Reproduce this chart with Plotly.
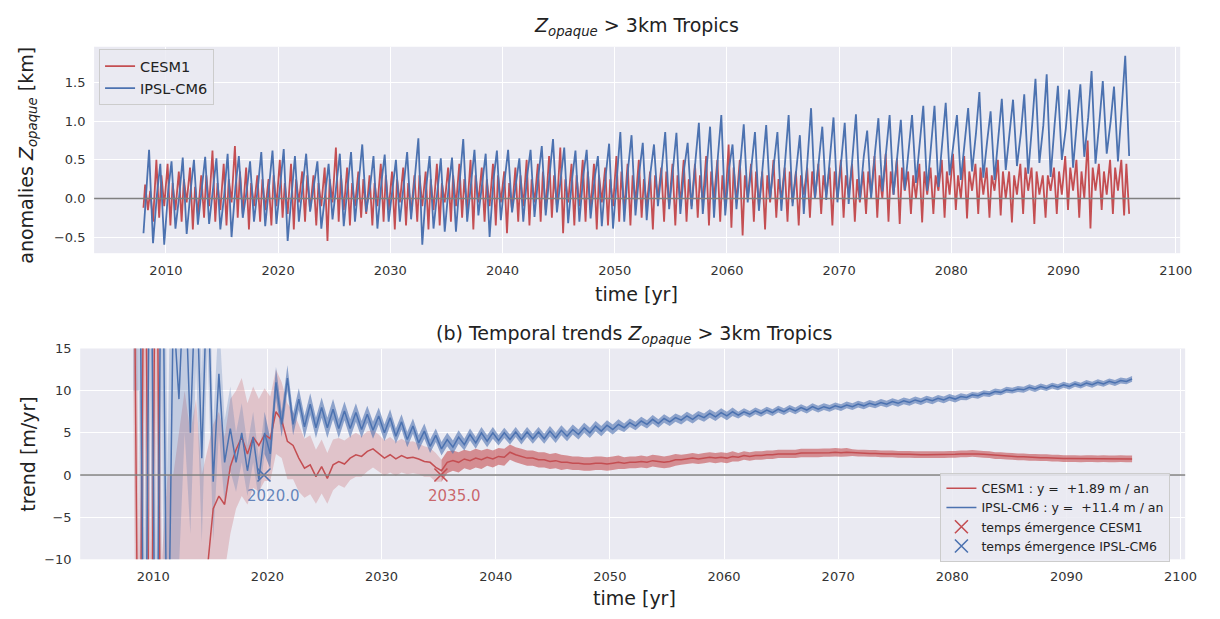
import numpy as np
import plotly.graph_objects as go

RED = "#C44E52"
BLUE = "#4C72B0"

YEARS = list(range(2008, 2096))

# ---- top panel: monthly anomalies, read as yearly shoulder / peak / trough (km) ----
IPSL_START = -0.45
IPSL_SHOULDER = [
    0.00, 0.05, 0.10, 0.05, 0.10, 0.15, 0.10, 0.05, 0.15, 0.10,
    0.15, 0.20, 0.15, 0.10, 0.20, 0.15, 0.10, 0.15, 0.20, 0.25,
    0.15, 0.20, 0.15, 0.20, 0.25, 0.15, 0.10, 0.15, 0.25, 0.20,
    0.20, 0.25, 0.25, 0.20, 0.30, 0.30, 0.35, 0.30, 0.25, 0.30,
    0.25, 0.30, 0.35, 0.40, 0.35, 0.35, 0.40, 0.45, 0.40, 0.50,
    0.45, 0.55, 0.40, 0.50, 0.45, 0.50, 0.50, 0.55, 0.45, 0.60,
    0.55, 0.55, 0.55, 0.60, 0.55, 0.60, 0.60, 0.60, 0.65, 0.70,
    0.70, 0.75, 0.70, 0.75, 0.85, 0.75, 0.80, 0.85, 0.85, 0.95,
    0.95, 0.95, 0.90, 1.00, 1.05, 1.00, 1.00, 1.20,
]
IPSL_PEAK = [
    0.63, 0.45, 0.48, 0.53, 0.50, 0.54, 0.52, 0.58, 0.55, 0.48,
    0.60, 0.62, 0.64, 0.55, 0.58, 0.48, 0.45, 0.58, 0.60, 0.70,
    0.55, 0.57, 0.50, 0.60, 0.78, 0.55, 0.52, 0.53, 0.77, 0.63,
    0.58, 0.62, 0.63, 0.52, 0.63, 0.68, 0.77, 0.66, 0.62, 0.63,
    0.55, 0.71, 0.86, 0.82, 0.72, 0.70, 0.86, 0.85, 0.72, 0.98,
    0.93, 1.08, 0.70, 0.96, 0.86, 0.95, 0.86, 1.08, 0.82, 1.17,
    0.93, 1.05, 0.98, 1.09, 0.88, 1.04, 1.08, 1.02, 1.08, 1.20,
    1.20, 1.24, 1.08, 1.17, 1.38, 1.13, 1.29, 1.28, 1.35, 1.55,
    1.61, 1.46, 1.41, 1.48, 1.65, 1.52, 1.45, 1.85,
]
IPSL_TROUGH = [
    -0.58, -0.60, -0.39, -0.46, -0.34, -0.33, -0.40, -0.50, -0.25, -0.30,
    -0.36, -0.33, -0.55, -0.30, -0.17, -0.39, -0.27, -0.36, -0.30, -0.17,
    -0.39, -0.30, -0.30, -0.27, -0.60, -0.39, -0.43, -0.43, -0.30, -0.22,
    -0.50, -0.28, -0.18, -0.30, -0.24, -0.22, -0.18, -0.32, -0.30, -0.26,
    -0.36, -0.39, -0.30, -0.22, -0.28, -0.10, -0.14, -0.20, -0.14, -0.20,
    -0.25, -0.22, -0.14, -0.05, -0.16, 0.00, -0.16, -0.10, -0.20, 0.00,
    -0.02, -0.05, -0.07, -0.02, 0.00, 0.09, 0.05, 0.11, 0.20, 0.10,
    0.15, 0.30, 0.24, 0.35, 0.27, 0.24, 0.37, 0.42, 0.32, 0.46,
    0.28, 0.50, 0.40, 0.54, 0.45, 0.58, 0.48, 0.55,
]

CESM_START = -0.12
CESM_HI_A = [
    0.18, 0.50, 0.45, 0.35, 0.40, 0.30, 0.62, 0.45, 0.68, 0.40,
    0.30, 0.25, 0.50, 0.45, 0.35, 0.30, 0.40, 0.66, 0.40, 0.35,
    0.30, 0.45, 0.35, 0.40, 0.30, 0.35, 0.45, 0.40, 0.45, 0.50,
    0.40, 0.45, 0.35, 0.40, 0.50, 0.45, 0.55, 0.66, 0.45, 0.50,
    0.45, 0.40, 0.55, 0.45, 0.50, 0.35, 0.40, 0.45, 0.50, 0.45,
    0.55, 0.50, 0.70, 0.50, 0.45, 0.35, 0.50, 0.40, 0.35, 0.40,
    0.45, 0.40, 0.50, 0.45, 0.35, 0.55, 0.58, 0.52, 0.35, 0.45,
    0.40, 0.50, 0.58, 0.55, 0.45, 0.40, 0.50, 0.35, 0.45, 0.40,
    0.30, 0.40, 0.55, 0.50, 0.75, 0.45, 0.50, 0.50,
]
CESM_LO_A = [
    -0.15, -0.25, -0.35, -0.30, -0.40, -0.25, -0.30, -0.35, -0.25, -0.40,
    -0.30, -0.35, -0.25, -0.40, -0.30, -0.35, -0.55, -0.30, -0.35, -0.25,
    -0.35, -0.30, -0.40, -0.35, -0.30, -0.40, -0.35, -0.30, -0.25, -0.40,
    -0.30, -0.35, -0.45, -0.30, -0.35, -0.30, -0.25, -0.45, -0.35, -0.30,
    -0.40, -0.35, -0.30, -0.35, -0.25, -0.40, -0.30, -0.35, -0.30, -0.25,
    -0.35, -0.30, -0.38, -0.48, -0.30, -0.40, -0.25, -0.30, -0.35, -0.25,
    -0.20, -0.35, -0.25, -0.30, -0.20, -0.25, -0.30, -0.33, -0.20, -0.31,
    -0.20, -0.25, -0.15, -0.26, -0.20, -0.25, -0.22, -0.31, -0.20, -0.33,
    -0.25, -0.20, -0.15, -0.25, -0.39, -0.15, -0.20, -0.22,
]
CESM_HI_B = [
    0.10, 0.30, 0.20, 0.25, 0.15, 0.30, 0.20, 0.25, 0.35, 0.20,
    0.25, 0.30, 0.20, 0.25, 0.30, 0.20, 0.25, 0.30, 0.20, 0.25,
    0.20, 0.30, 0.25, 0.20, 0.30, 0.25, 0.20, 0.30, 0.25, 0.30,
    0.25, 0.30, 0.20, 0.30, 0.25, 0.35, 0.30, 0.25, 0.30, 0.35,
    0.30, 0.25, 0.35, 0.30, 0.25, 0.30, 0.35, 0.30, 0.25, 0.30,
    0.35, 0.30, 0.40, 0.30, 0.35, 0.30, 0.25, 0.35, 0.30, 0.35,
    0.30, 0.35, 0.30, 0.25, 0.35, 0.30, 0.35, 0.40, 0.30, 0.35,
    0.30, 0.35, 0.30, 0.35, 0.40, 0.30, 0.35, 0.30, 0.40, 0.35,
    0.30, 0.35, 0.40, 0.35, 0.40, 0.35, 0.40, 0.45,
]
CESM_LO_B = [
    -0.30, -0.10, -0.15, -0.05, -0.20, -0.10, -0.15, -0.05, -0.20, -0.10,
    -0.15, -0.10, -0.20, -0.05, -0.15, -0.10, -0.05, -0.15, -0.10, -0.20,
    -0.10, -0.15, -0.05, -0.20, -0.10, -0.15, -0.05, -0.10, -0.15, -0.05,
    -0.10, -0.05, -0.15, -0.10, -0.05, -0.15, -0.10, -0.05, -0.10, -0.15,
    -0.05, -0.10, -0.15, -0.05, -0.10, 0.00, -0.10, -0.05, -0.10, -0.05,
    0.00, -0.10, -0.05, 0.00, -0.10, -0.05, 0.00, -0.05, 0.05, 0.00,
    0.05, 0.00, 0.05, -0.05, 0.05, 0.00, 0.05, 0.10, 0.00, 0.05,
    0.10, 0.05, 0.00, 0.10, 0.05, 0.10, 0.00, 0.05, 0.10, 0.05,
    0.10, 0.05, 0.10, 0.00, 0.10, 0.05, 0.10, -0.20,
]

# ---- bottom panel: trends (m/yr), two readings per year ----
IPSL_TREND = [
    40, 40, -40, 40, -40, 40, -30, 20, 9, 25,
    5, 25, 2, 25, -0.8, 12, 1.5, 5.5, 1.5, 5,
    0.5, 4.5, -0.5, 5, 2.5, 11, 6, 11.5, 6, 9,
    5.7, 8.4, 5.6, 8.0, 5.6, 7.8, 5.5, 7.6, 5.5, 7.4,
    5.4, 7.2, 5.3, 7.0, 5.0, 6.8, 4.6, 6.3, 4.2, 5.8,
    3.8, 5.2, 3.4, 4.7, 3.1, 4.2, 3.3, 4.5, 3.6, 4.8,
    3.8, 5, 4, 5, 4.1, 5, 4.2, 5.1, 4.2, 5.1,
    4.3, 5.1, 4.3, 5.2, 4.4, 5.3, 4.6, 5.4, 4.8, 5.6,
    5, 5.8, 5.2, 5.9, 5.4, 6, 5.6, 6.2, 5.8, 6.4,
    6, 6.6, 6.1, 6.7, 6.3, 6.8, 6.5, 7, 6.6, 7.1,
    6.8, 7.3, 6.9, 7.4, 7, 7.5, 7.1, 7.5, 7.2, 7.6,
    7.3, 7.7, 7.4, 7.8, 7.5, 7.9, 7.6, 8, 7.7, 8.1,
    7.8, 8.1, 7.9, 8.2, 8, 8.3, 8.1, 8.4, 8.2, 8.5,
    8.3, 8.6, 8.4, 8.7, 8.5, 8.8, 8.6, 8.9, 8.7, 9,
    8.8, 9.1, 8.9, 9.2, 9, 9.3, 9.2, 9.5, 9.4, 9.7,
    9.6, 9.9, 9.8, 10.1, 10, 10.2, 10.1, 10.4, 10.2, 10.5,
    10.3, 10.6, 10.4, 10.7, 10.5, 10.8, 10.6, 10.9, 10.7, 11,
    10.8, 11.1, 10.9, 11.2, 11.1, 11.4,
]
CESM_TREND = [
    40, -40, 40, -40, 40, -40, -30, -30, -25, -20,
    -20, -16, -14, -11, -4, -2.5, -3.5, 1, 3, 4.5,
    2.5, 4.5, 3.5, 4.8, 4.3, 7.5, 6.5, 4, 3.5, 2,
    0.8, 1.2, -0.2, 1, -0.4, 1.2, 1.6, 1.3, 2, 2.4,
    2.2, 2.8, 3.1, 2.6, 2, 2.4, 1.9, 2.3, 2, 2.1,
    1.9, 1.6, 1.5, 0.9, 0.5, 1.5, 1.7, 1.5, 1.9, 1.7,
    2, 1.8, 2.1, 1.9, 2.2, 2.1, 2.7, 2.4, 2.2, 2,
    2, 1.8, 1.8, 1.6, 1.7, 1.5, 1.5, 1.4, 1.4, 1.3,
    1.3, 1.4, 1.4, 1.3, 1.4, 1.5, 1.4, 1.5, 1.5, 1.6,
    1.5, 1.7, 1.6, 1.5, 1.6, 1.8, 1.8, 1.9, 2, 1.9,
    2, 2.1, 2, 2.1, 2, 2.2, 2.1, 2.3, 2.2, 2.3,
    2.3, 2.4, 2.4, 2.5, 2.5, 2.5, 2.5, 2.6, 2.6, 2.6,
    2.6, 2.65, 2.65, 2.7, 2.65, 2.7, 2.65, 2.6, 2.6, 2.55,
    2.55, 2.5, 2.5, 2.5, 2.45, 2.45, 2.45, 2.4, 2.4, 2.4,
    2.4, 2.4, 2.4, 2.45, 2.45, 2.5, 2.5, 2.55, 2.5, 2.45,
    2.4, 2.3, 2.3, 2.25, 2.2, 2.15, 2.15, 2.1, 2.1, 2.05,
    2.05, 2, 2, 1.95, 1.95, 1.95, 1.9, 1.95, 1.95, 1.9,
    1.95, 1.9, 1.9, 1.95, 1.9, 1.9,
]
# half-width of the shaded interval, one value per year
IPSL_HW = [
    30, 30, 30, 30, 20, 12, 10, 7, 5, 3.5,
    3, 2.5, 1.8, 1.5, 1.3, 1.3, 1.2, 1.2, 1.1, 1.1,
    1.0, 1.0, 1.0, 0.9, 0.9, 0.9, 0.8, 0.8, 0.8, 0.7,
    0.7, 0.7, 0.6, 0.6, 0.6, 0.6, 0.6, 0.6, 0.6, 0.6,
    0.6, 0.6, 0.6, 0.5, 0.5, 0.5, 0.5, 0.5, 0.5, 0.5,
    0.5, 0.5, 0.5, 0.4, 0.4, 0.4, 0.4, 0.4, 0.4, 0.4,
    0.4, 0.4, 0.4, 0.4, 0.4, 0.4, 0.4, 0.4, 0.4, 0.4,
    0.4, 0.4, 0.4, 0.35, 0.35, 0.35, 0.35, 0.35, 0.35, 0.35,
    0.35, 0.35, 0.35, 0.35, 0.35, 0.35, 0.35, 0.35,
]
CESM_HW = [
    30, 30, 30, 30, 30, 25, 14, 10, 8, 7,
    6, 5.5, 5, 4.5, 4, 3.5, 3.2, 3.0, 2.8, 2.6,
    2.4, 2.2, 2.1, 2.0, 1.9, 1.8, 1.7, 1.3, 1.2, 1.1,
    1.1, 1.0, 1.0, 0.9, 0.9, 0.9, 0.9, 0.9, 0.8, 0.8,
    0.8, 0.8, 0.8, 0.7, 0.7, 0.7, 0.7, 0.7, 0.6, 0.6,
    0.6, 0.6, 0.6, 0.5, 0.5, 0.5, 0.5, 0.5, 0.5, 0.5,
    0.5, 0.5, 0.5, 0.4, 0.4, 0.4, 0.4, 0.4, 0.4, 0.4,
    0.4, 0.4, 0.4, 0.4, 0.4, 0.4, 0.4, 0.4, 0.4, 0.4,
    0.4, 0.4, 0.4, 0.4, 0.4, 0.4, 0.4, 0.4,
]

EMERGENCE = {"CESM1": 2035.2, "IPSL-CM6": 2019.7}
SLOPES = {"CESM1": "+1.89", "IPSL-CM6": "+11.4"}

yrs = np.array(YEARS, dtype=float)

# top series
t_ipsl = np.concatenate([[2008.0], np.column_stack([yrs + 0.2, yrs + 0.5, yrs + 0.85]).ravel()])
v_ipsl = np.concatenate([[IPSL_START],
                         np.column_stack([IPSL_SHOULDER, IPSL_PEAK, IPSL_TROUGH]).ravel()])
t_cesm = np.concatenate([[2008.0], np.column_stack([yrs + 0.15, yrs + 0.4, yrs + 0.6, yrs + 0.85]).ravel()])
v_cesm = np.concatenate([[CESM_START],
                         np.column_stack([CESM_HI_A, CESM_LO_A, CESM_HI_B, CESM_LO_B]).ravel()])

# bottom series
t_tr = np.column_stack([yrs + 0.25, yrs + 0.75]).ravel()

fig = go.Figure()

fig.add_scatter(x=t_cesm, y=v_cesm, mode="lines", name="CESM1",
                line=dict(color=RED, width=1.8), xaxis="x", yaxis="y", legend="legend")
fig.add_scatter(x=t_ipsl, y=v_ipsl, mode="lines", name="IPSL-CM6",
                line=dict(color=BLUE, width=1.8), xaxis="x", yaxis="y", legend="legend")


def band(trend, hw, t_emerg, rgb):
    v = np.array(trend, dtype=float)
    h = np.repeat(np.array(hw, dtype=float), 2)
    up, lo = v + h, v - h
    k = int(np.searchsorted(t_tr, t_emerg))
    for sl, alpha in ((slice(0, k + 1), 0.25), (slice(k, None), 0.6)):
        tx = t_tr[sl]
        fig.add_scatter(
            x=np.concatenate([tx, tx[::-1]]),
            y=np.concatenate([up[sl], lo[sl][::-1]]),
            fill="toself", mode="none", hoverinfo="skip", showlegend=False,
            fillcolor=f"rgba({rgb},{alpha})", xaxis="x2", yaxis="y2",
        )


band(CESM_TREND, CESM_HW, EMERGENCE["CESM1"], "196,78,82")
band(IPSL_TREND, IPSL_HW, EMERGENCE["IPSL-CM6"], "76,114,176")

nb = "\u00a0"
fig.add_scatter(x=t_tr, y=CESM_TREND, mode="lines",
                name=f"CESM1 : y ={nb}{nb}{SLOPES['CESM1']} m / an",
                line=dict(color=RED, width=1.5), xaxis="x2", yaxis="y2", legend="legend2")
fig.add_scatter(x=t_tr, y=IPSL_TREND, mode="lines",
                name=f"IPSL-CM6 : y ={nb}{nb}{SLOPES['IPSL-CM6']} m / an",
                line=dict(color=BLUE, width=1.5), xaxis="x2", yaxis="y2", legend="legend2")
for model, col in (("CESM1", RED), ("IPSL-CM6", BLUE)):
    fig.add_scatter(x=[EMERGENCE[model]], y=[0], mode="markers",
                    name=f"temps émergence {model}",
                    marker=dict(symbol="x-thin", size=13, line=dict(color=col, width=1.6)),
                    xaxis="x2", yaxis="y2", legend="legend2")

TICKFONT = dict(family="DejaVu Sans", size=13, color="#333333")
ax_common = dict(showgrid=True, gridcolor="white", gridwidth=1.3, zeroline=False,
                 showline=False, ticks="outside", ticklen=5,
                 tickcolor="rgba(0,0,0,0)", tickfont=TICKFONT)

zopaque = "<i>Z</i><sub><i>opaque</i></sub>"
TXT = dict(family="DejaVu Sans", size=19, color="#222222")

fig.update_layout(
    width=1220, height=619,
    margin=dict(l=0, r=0, t=0, b=0),
    paper_bgcolor="white", plot_bgcolor="#EAEAF2",
    font=dict(family="DejaVu Sans", color="#222222"),
    xaxis=dict(ax_common, domain=[0.0779, 0.977], anchor="y",
               range=[2003.6, 2100.4], tick0=2010, dtick=10),
    yaxis=dict(ax_common, domain=[0.5924, 0.9342], anchor="x",
               range=[-0.709, 1.966], tickvals=[-0.5, 0, 0.5, 1.0, 1.5], tickformat=".1f"),
    xaxis2=dict(ax_common, domain=[0.0664, 0.9811], anchor="y2",
                range=[2003.6, 2100.4], tick0=2010, dtick=10),
    yaxis2=dict(ax_common, domain=[0.0856, 0.4346], anchor="x2",
                range=[-10, 15], tickvals=[-10, -5, 0, 5, 10, 15]),
    legend=dict(x=0.082, y=0.93, xanchor="left", yanchor="top",
                bgcolor="rgba(234,234,242,0.85)", bordercolor="#CCCCCC", borderwidth=1,
                font=dict(family="DejaVu Sans", size=14.5, color="#222222"),
                itemwidth=30, tracegroupgap=0),
    legend2=dict(x=0.7785, y=0.229, xanchor="left", yanchor="top",
                 bgcolor="rgba(234,234,242,0.85)", bordercolor="#CCCCCC", borderwidth=1,
                 font=dict(family="DejaVu Sans", size=12.5, color="#222222"),
                 itemwidth=30, tracegroupgap=0),
    shapes=[
        dict(type="line", xref="x domain", yref="y", x0=0, x1=1, y0=0, y1=0,
             line=dict(color="#808080", width=1.6), layer="above"),
        dict(type="line", xref="x2 domain", yref="y2", x0=0, x1=1, y0=0, y1=0,
             line=dict(color="#808080", width=1.6), layer="above"),
    ],
    annotations=[
        dict(text=f"{zopaque} > 3km Tropics", x=0.527, y=0.967, xref="paper", yref="paper",
             showarrow=False, font=TXT, xanchor="center", yanchor="middle"),
        dict(text=f"(b) Temporal trends {zopaque} > 3km Tropics", x=0.525, y=0.457,
             xref="paper", yref="paper", showarrow=False, font=TXT,
             xanchor="center", yanchor="middle"),
        dict(text=f"anomalies {zopaque} [km]", x=0.023, y=0.755, xref="paper", yref="paper",
             showarrow=False, font=TXT, textangle=-90, xanchor="center", yanchor="middle"),
        dict(text="trend [m/yr]", x=0.023, y=0.26, xref="paper", yref="paper",
             showarrow=False, font=TXT, textangle=-90, xanchor="center", yanchor="middle"),
        dict(text="time [yr]", x=0.527, y=0.525, xref="paper", yref="paper",
             showarrow=False, font=TXT, xanchor="center", yanchor="middle"),
        dict(text="time [yr]", x=0.525, y=0.021, xref="paper", yref="paper",
             showarrow=False, font=TXT, xanchor="center", yanchor="middle"),
        dict(text=f"{EMERGENCE['IPSL-CM6'] + 0.3:.1f}", x=EMERGENCE["IPSL-CM6"] + 0.8, y=-2.5,
             xref="x2", yref="y2", showarrow=False,
             font=dict(family="DejaVu Sans", size=15, color="rgba(76,114,176,0.85)")),
        dict(text=f"{EMERGENCE['CESM1'] - 0.2:.1f}", x=EMERGENCE["CESM1"] + 1.2, y=-2.5,
             xref="x2", yref="y2", showarrow=False,
             font=dict(family="DejaVu Sans", size=15, color="rgba(196,78,82,0.85)")),
    ],
)

fig.write_html("out.html", config={"displayModeBar": False},
               post_script="document.body.style.margin='0';")
